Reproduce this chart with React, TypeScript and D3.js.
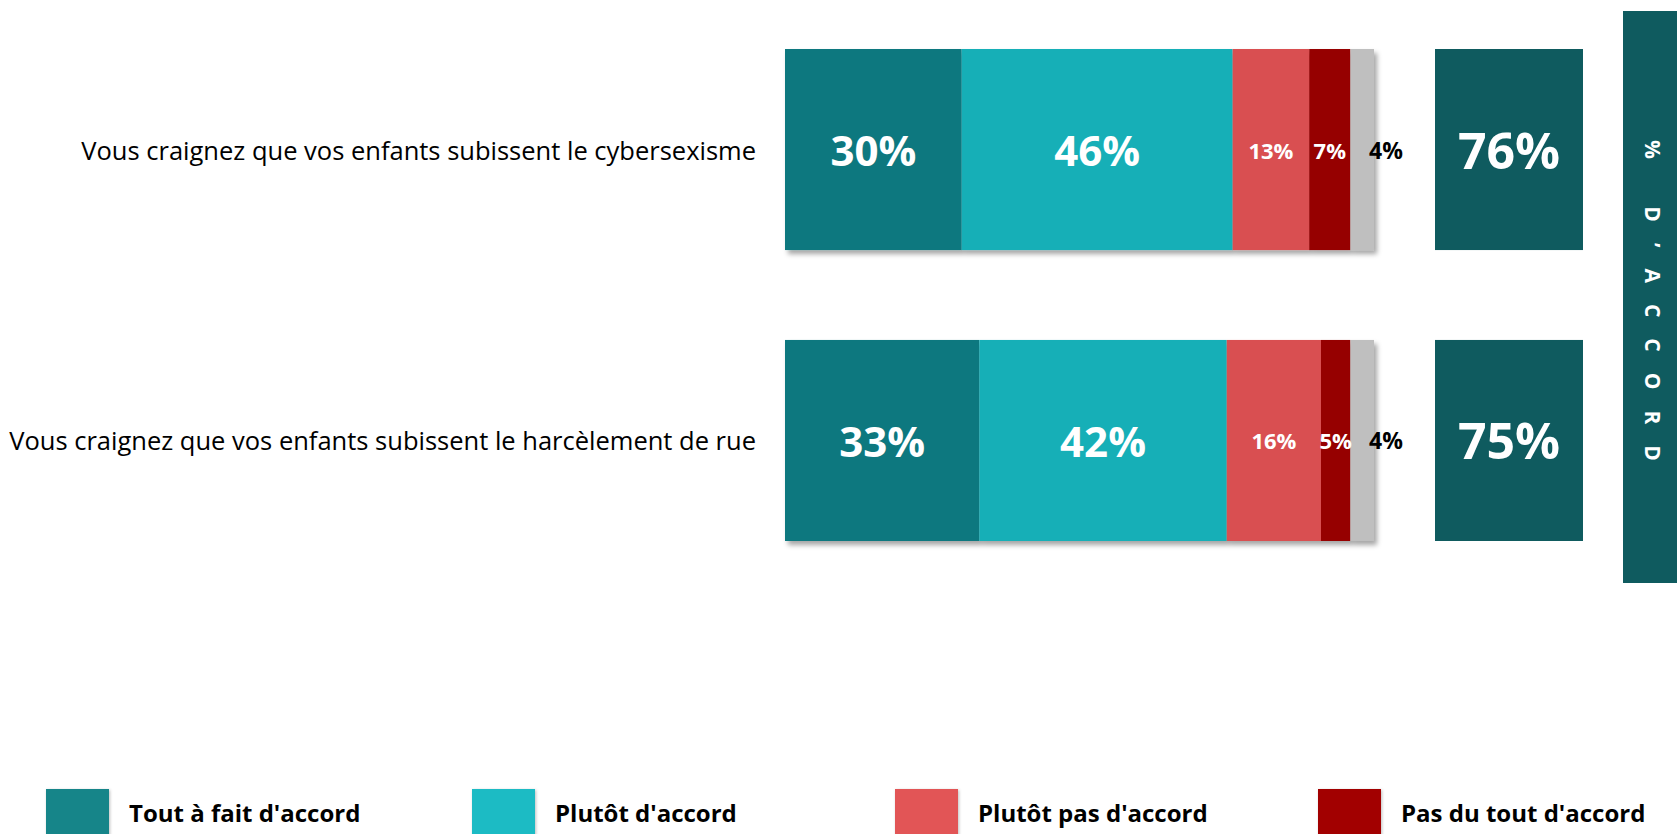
import React, { useEffect, useRef } from "react";
import * as d3 from "d3";

const categories = [
  "Vous craignez que vos enfants subissent le cybersexisme",
  "Vous craignez que vos enfants subissent le harcèlement de rue",
];
const seriesNames = ["Tout à fait d'accord", "Plutôt d'accord", "Plutôt pas d'accord", "Pas du tout d'accord", "NSP"];
const toutAFait = [30, 33];
const plutot = [46, 42];
const plutotPas = [13, 16];
const pasDuTout = [7, 5];
const nsp = [4, 4];
const totalAccord = [76, 75];
const bandTitle = "% D\u2019ACCORD";

const barColors = ["#10787f", "#14afb7", "#d94f51", "#960000", "#bfbfbf"];
const legendColors = ["#178589", "#1bbbc4", "#e25556", "#a20506"];

const W = 1677;
const H = 834;
const FONT = "'Open Sans', 'Noto Sans', sans-serif";

export default function App() {
  const ref = useRef<SVGSVGElement | null>(null);

  useEffect(() => {
    const svg = d3.select(ref.current);
    svg.selectAll("*").remove();

    const defs = svg.append("defs");
    const f = defs.append("filter").attr("id", "shadow").attr("x", "-5%").attr("y", "-5%").attr("width", "115%").attr("height", "120%");
    f.append("feDropShadow").attr("dx", 3).attr("dy", 4).attr("stdDeviation", 2.5).attr("flood-color", "#000").attr("flood-opacity", 0.35);
    const f2 = defs.append("filter").attr("id", "shadow2").attr("x", "-10%").attr("y", "-10%").attr("width", "130%").attr("height", "130%");
    f2.append("feDropShadow").attr("dx", 1).attr("dy", 1).attr("stdDeviation", 1.5).attr("flood-color", "#000").attr("flood-opacity", 0.25);

    const x = d3.scaleLinear().domain([0, 100]).range([785, 1374]);
    const y = d3.scaleBand<string>().domain(categories).range([49, 541]).paddingInner(0.309).paddingOuter(0);

    const series = [toutAFait, plutot, plutotPas, pasDuTout, nsp];
    const rows = categories.map((c, i) => {
      const o: any = { cat: c };
      seriesNames.forEach((s, k) => (o[s] = series[k][i]));
      return o;
    });
    const stacked = d3.stack<any>().keys(seriesNames)(rows);

    // category labels
    svg
      .append("g")
      .selectAll("text")
      .data(categories)
      .join("text")
      .attr("x", 756)
      .attr("y", (d) => (y(d) as number) + y.bandwidth() / 2)
      .attr("text-anchor", "end")
      .attr("dominant-baseline", "central")
      .attr("font-family", FONT)
      .attr("font-size", 25.5)
      .attr("fill", "#000")
      .text((d) => d);

    // bars
    const barG = svg.append("g").attr("filter", "url(#shadow)");
    stacked.forEach((layer, k) => {
      barG
        .append("g")
        .selectAll("rect")
        .data(layer)
        .join("rect")
        .attr("x", (d) => x(d[0]))
        .attr("width", (d) => x(d[1]) - x(d[0]))
        .attr("y", (d) => y(d.data.cat) as number)
        .attr("height", y.bandwidth())
        .attr("fill", barColors[k]);
    });

    // segment labels
    stacked.forEach((layer, k) => {
      const big = k < 2;
      const last = k === 4;
      svg
        .append("g")
        .selectAll("text")
        .data(layer)
        .join("text")
        .attr("x", (d) => (last ? x(d[1]) + 12 : (x(d[0]) + x(d[1])) / 2))
        .attr("y", (d) => (y(d.data.cat) as number) + y.bandwidth() / 2)
        .attr("text-anchor", "middle")
        .attr("dominant-baseline", "central")
        .attr("font-family", FONT)
        .attr("font-weight", 700)
        .attr("font-size", big ? 42 : last ? 23 : 22)
        .attr("fill", last ? "#000" : "#fff")
        .text((d) => `${d[1] - d[0]}%`);
    });

    // total boxes
    const boxG = svg.append("g");
    boxG
      .selectAll("rect")
      .data(categories)
      .join("rect")
      .attr("x", 1435)
      .attr("width", 148)
      .attr("y", (d) => y(d) as number)
      .attr("height", y.bandwidth())
      .attr("fill", "#0f5b5f");
    boxG
      .selectAll("text")
      .data(categories)
      .join("text")
      .attr("x", 1435 + 74)
      .attr("y", (d) => (y(d) as number) + y.bandwidth() / 2)
      .attr("text-anchor", "middle")
      .attr("dominant-baseline", "central")
      .attr("font-family", FONT)
      .attr("font-weight", 700)
      .attr("font-size", 50)
      .attr("fill", "#fff")
      .text((d, i) => `${totalAccord[i]}%`);

    // side band
    svg.append("rect").attr("x", 1623).attr("y", 11).attr("width", 54).attr("height", 572).attr("fill", "#0f5b5f");
    svg
      .append("text")
      .attr("transform", `translate(1653, 140) rotate(90)`)
      .attr("dominant-baseline", "central")
      .attr("font-family", FONT)
      .attr("font-weight", 700)
      .attr("font-size", 21)
      .attr("letter-spacing", 21)
      .attr("fill", "#fff")
      .text(bandTitle);

    // legend
    const legX = [46, 472, 895, 1318];
    const lg = svg
      .append("g")
      .selectAll("g")
      .data(seriesNames.slice(0, 4))
      .join("g")
      .attr("transform", (d, i) => `translate(${legX[i]}, 789)`);
    lg.append("rect")
      .attr("width", 63)
      .attr("height", 50)
      .attr("fill", (d, i) => legendColors[i])
      .attr("filter", "url(#shadow2)");
    lg.append("text")
      .attr("x", 83)
      .attr("y", 33)
      .attr("font-family", FONT)
      .attr("font-weight", 700)
      .attr("font-size", 24)
      .attr("fill", "#000")
      .text((d) => d);
  }, []);

  return (
    <svg
      ref={ref}
      width={W}
      height={H}
      style={{ position: "absolute", left: 0, top: 0, background: "#fff" }}
    />
  );
}
